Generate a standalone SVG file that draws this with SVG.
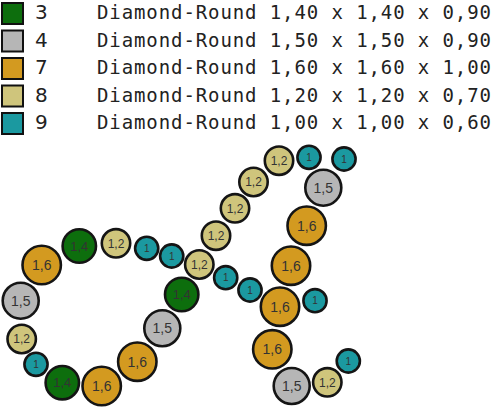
<svg xmlns="http://www.w3.org/2000/svg" width="496" height="408" viewBox="0 0 496 408">
<style>
.sq{stroke:#111;stroke-width:2}
.g{fill:#0d6e0d}.s{fill:#b6b6b6}.o{fill:#d39a20}.k{fill:#cfc57c}.t{fill:#1b99a0}
.num{font-family:"DejaVu Sans",sans-serif;font-size:20px;fill:#222}
.mono{font-family:"DejaVu Sans Mono","Liberation Mono",monospace;font-size:19px;fill:#222}
circle{stroke:#151515;stroke-width:2.6}
.l{font-family:"Liberation Sans",Arial,sans-serif;fill:#333;text-anchor:middle}
.l16{font-size:14px}.l14{font-size:13px}.l12{font-size:12px}.l10{font-size:10px}
</style>
<rect width="496" height="408" fill="#fff"/>
<g id="legend">
<g id="leg3"><rect class="sq g" x="2" y="3" width="21" height="21"/><text class="num" x="35" y="19">3</text><text class="mono" x="97" y="19" textLength="394" lengthAdjust="spacing">Diamond-Round 1,40 x 1,40 x 0,90</text></g>
<g id="leg4"><rect class="sq s" x="2" y="30.5" width="21" height="21"/><text class="num" x="35" y="46.5">4</text><text class="mono" x="97" y="46.5" textLength="394" lengthAdjust="spacing">Diamond-Round 1,50 x 1,50 x 0,90</text></g>
<g id="leg7"><rect class="sq o" x="2" y="58" width="21" height="21"/><text class="num" x="35" y="74">7</text><text class="mono" x="97" y="74" textLength="394" lengthAdjust="spacing">Diamond-Round 1,60 x 1,60 x 1,00</text></g>
<g id="leg8"><rect class="sq k" x="2" y="85.5" width="21" height="21"/><text class="num" x="35" y="101.5">8</text><text class="mono" x="97" y="101.5" textLength="394" lengthAdjust="spacing">Diamond-Round 1,20 x 1,20 x 0,70</text></g>
<g id="leg9"><rect class="sq t" x="2" y="113" width="21" height="21"/><text class="num" x="35" y="129">9</text><text class="mono" x="97" y="129" textLength="394" lengthAdjust="spacing">Diamond-Round 1,00 x 1,00 x 0,60</text></g>
</g>
<g id="n1"><circle class="o" cx="41.7" cy="265" r="19.2"/><text class="l l16" x="41.7" y="270">1,6</text></g>
<g id="n2"><circle class="g" cx="79.3" cy="246" r="16.7"/><text class="l l14" x="79.3" y="250.5">1,4</text></g>
<g id="n3"><circle class="k" cx="116" cy="243.3" r="14.2"/><text class="l l12" x="116" y="247.5">1,2</text></g>
<g id="n4"><circle class="t" cx="146.7" cy="248.3" r="11.6"/><text class="l l10" x="146.7" y="251.8">1</text></g>
<g id="n5"><circle class="t" cx="171.7" cy="256" r="11.6"/><text class="l l10" x="171.7" y="259.5">1</text></g>
<g id="n6"><circle class="k" cx="199.3" cy="264.5" r="14.2"/><text class="l l12" x="199.3" y="268.7">1,2</text></g>
<g id="n7"><circle class="k" cx="216" cy="235.7" r="14.2"/><text class="l l12" x="216" y="239.9">1,2</text></g>
<g id="n8"><circle class="k" cx="235" cy="208.3" r="14.2"/><text class="l l12" x="235" y="212.5">1,2</text></g>
<g id="n9"><circle class="k" cx="253.5" cy="182" r="14.2"/><text class="l l12" x="253.5" y="186.2">1,2</text></g>
<g id="n10"><circle class="k" cx="279" cy="160.7" r="14.2"/><text class="l l12" x="279" y="164.9">1,2</text></g>
<g id="n11"><circle class="t" cx="309" cy="157.3" r="11.6"/><text class="l l10" x="309" y="160.8">1</text></g>
<g id="n12"><circle class="t" cx="344" cy="159" r="11.6"/><text class="l l10" x="344" y="162.5">1</text></g>
<g id="n13"><circle class="s" cx="323.3" cy="187.7" r="18"/><text class="l l16" x="323.3" y="192.7">1,5</text></g>
<g id="n14"><circle class="o" cx="306.7" cy="225.7" r="19.2"/><text class="l l16" x="306.7" y="230.7">1,6</text></g>
<g id="n15"><circle class="o" cx="291" cy="265.7" r="19.2"/><text class="l l16" x="291" y="270.7">1,6</text></g>
<g id="n16"><circle class="o" cx="280" cy="306.7" r="19.2"/><text class="l l16" x="280" y="311.7">1,6</text></g>
<g id="n17"><circle class="t" cx="315" cy="300.7" r="11.6"/><text class="l l10" x="315" y="304.2">1</text></g>
<g id="n18"><circle class="o" cx="272.3" cy="349.3" r="19.2"/><text class="l l16" x="272.3" y="354.3">1,6</text></g>
<g id="n19"><circle class="s" cx="291.7" cy="386" r="18"/><text class="l l16" x="291.7" y="391">1,5</text></g>
<g id="n20"><circle class="k" cx="327.3" cy="382.3" r="14.2"/><text class="l l12" x="327.3" y="386.5">1,2</text></g>
<g id="n21"><circle class="t" cx="348.3" cy="361" r="11.6"/><text class="l l10" x="348.3" y="364.5">1</text></g>
<g id="n22"><circle class="t" cx="250" cy="290" r="11.6"/><text class="l l10" x="250" y="293.5">1</text></g>
<g id="n23"><circle class="t" cx="225.7" cy="277.7" r="11.6"/><text class="l l10" x="225.7" y="281.2">1</text></g>
<g id="n24"><circle class="g" cx="181.7" cy="294.5" r="16.7"/><text class="l l14" x="181.7" y="299">1,4</text></g>
<g id="n25"><circle class="s" cx="162.3" cy="328.3" r="18"/><text class="l l16" x="162.3" y="333.3">1,5</text></g>
<g id="n26"><circle class="o" cx="137.3" cy="361.7" r="19.2"/><text class="l l16" x="137.3" y="366.7">1,6</text></g>
<g id="n27"><circle class="o" cx="101.7" cy="386" r="19.2"/><text class="l l16" x="101.7" y="391">1,6</text></g>
<g id="n28"><circle class="g" cx="62.3" cy="382.7" r="16.7"/><text class="l l14" x="62.3" y="387.2">1,4</text></g>
<g id="n29"><circle class="t" cx="36" cy="364.3" r="11.6"/><text class="l l10" x="36" y="367.8">1</text></g>
<g id="n30"><circle class="k" cx="21.7" cy="339" r="14.2"/><text class="l l12" x="21.7" y="343.2">1,2</text></g>
<g id="n31"><circle class="s" cx="20.7" cy="300.7" r="18"/><text class="l l16" x="20.7" y="305.7">1,5</text></g>
</svg>
